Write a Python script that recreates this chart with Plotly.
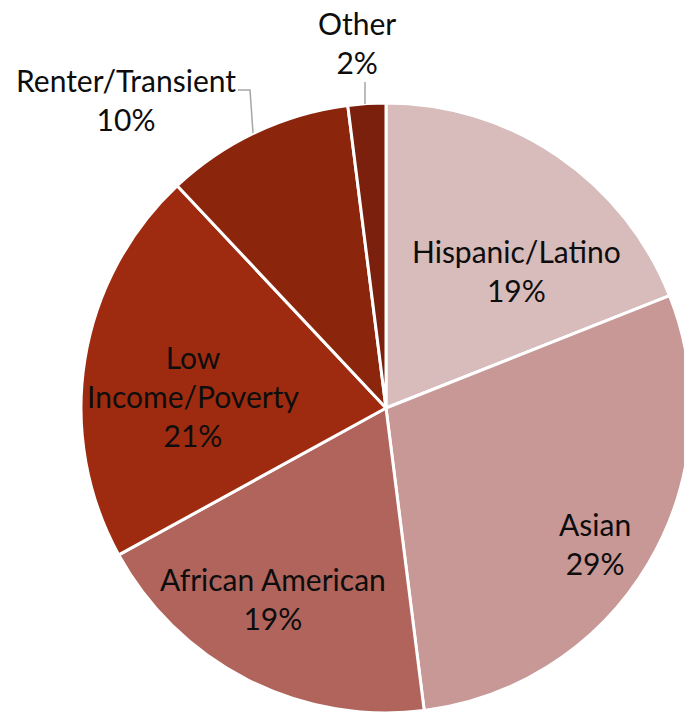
import plotly.graph_objects as go

W, H = 692, 714
OFF = 8  # page body margin offset

labels = ["Hispanic/Latino", "Asian", "African American", "Low Income/Poverty", "Renter/Transient", "Other"]
display = ["Hispanic/Latino", "Asian", "African American", "Low<br>Income/Poverty", "Renter/Transient", "Other"]
values = [19, 29, 19, 21, 10, 2]
colors = ["#D8BBBB", "#C79896", "#B0645C", "#9E2B10", "#8B260D", "#7A200C"]
# label block centres (screen pixels) and leader line paths (screen pixels)
label_pos = [(516, 270), (595, 543), (273, 598), (193, 396), (126, 100), (357, 42)]
leaders = [None, None, None, None, [(238, 90), (250, 90), (253, 133)], [(365, 82), (365, 104)]]


def px(x):
    return (x - OFF) / W


def py(y):
    return 1 - (y - OFF) / H


fig = go.Figure(go.Pie(
    labels=labels,
    values=values,
    textinfo="none",
    sort=False,
    direction="clockwise",
    rotation=0,
    marker=dict(colors=colors, line=dict(color="white", width=3)),
    hoverinfo="label+percent",
    domain=dict(x=[px(81), px(691)], y=[py(713), py(103)]),
))

total = sum(values)
annotations = []
shapes = []
for d, v, (lx, ly), ld in zip(display, values, label_pos, leaders):
    annotations.append(dict(
        text=f"{d}<br>{round(100 * v / total)}%",
        x=px(lx), y=py(ly), xref="paper", yref="paper",
        xanchor="center", yanchor="middle", showarrow=False,
        font=dict(family="Lato", size=30, color="#0D0D0D"),
        align="center",
    ))
    if ld:
        path = "M " + " L ".join(f"{px(x)},{py(y)}" for x, y in ld)
        shapes.append(dict(type="path", path=path, xref="paper", yref="paper",
                           line=dict(color="#A6A6A6", width=1.5)))

fig.update_layout(
    width=W, height=H,
    margin=dict(l=0, r=0, t=0, b=0),
    showlegend=False,
    paper_bgcolor="white",
    plot_bgcolor="white",
    annotations=annotations,
    shapes=shapes,
)

fig.write_html("out.html")
